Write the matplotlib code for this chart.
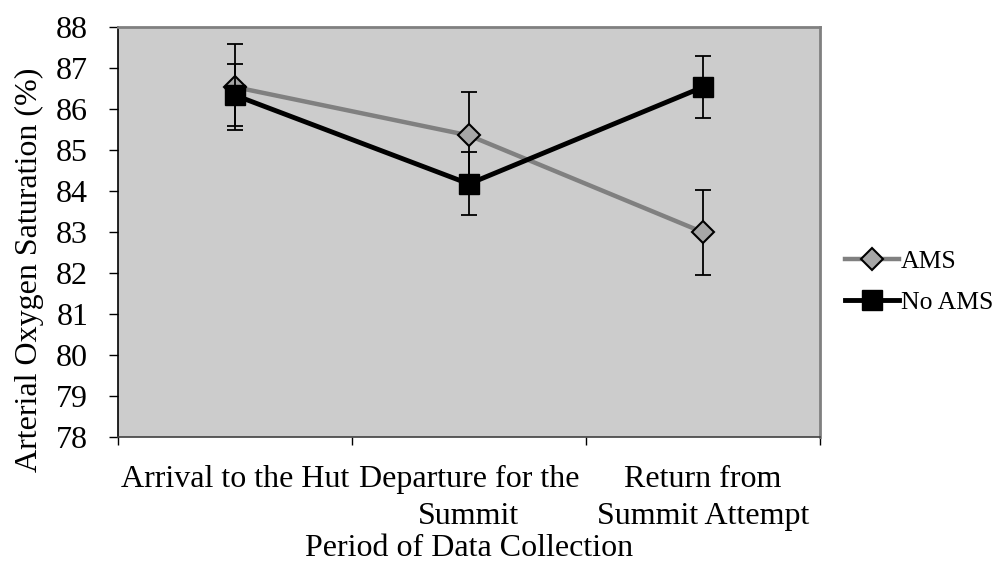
import matplotlib
matplotlib.use("Agg")
import matplotlib.pyplot as plt
from matplotlib.ticker import FixedLocator, NullFormatter, FixedFormatter

categories = ["Arrival to the Hut", "Departure for the\nSummit", "Return from\nSummit Attempt"]
ams_values = [86.53, 85.35, 82.99]
ams_errors = [1.05, 1.05, 1.04]
noams_values = [86.33, 84.17, 86.53]
noams_errors = [0.76, 0.77, 0.76]
series_names = ["AMS", "No AMS"]
yticks = list(range(78, 89))

plt.rcParams['font.family'] = ['Liberation Serif', 'DejaVu Serif']

fig = plt.figure(figsize=(10.05, 5.69), dpi=100)
ax = fig.add_axes([0.1174, 0.232, 0.6985, 0.721])
ax.set_facecolor('#cccccc')

x = [0.5 + i for i in range(len(categories))]

ax.errorbar(x, ams_values, yerr=ams_errors, fmt='none', ecolor='black',
            elinewidth=1.3, capsize=6, capthick=1.3, zorder=2)
l1, = ax.plot(x, ams_values, color='#808080', lw=3.2, marker='D', markersize=11.5,
              markerfacecolor='#a6a6a6', markeredgecolor='black', markeredgewidth=1.5,
              zorder=3, label=series_names[0])
ax.errorbar(x, noams_values, yerr=noams_errors, fmt='none', ecolor='black',
            elinewidth=1.3, capsize=6, capthick=1.3, zorder=4)
l2, = ax.plot(x, noams_values, color='black', lw=3.5, marker='s', markersize=14,
              markerfacecolor='black', markeredgecolor='black',
              zorder=5, label=series_names[1])

ax.set_xlim(0, len(categories))
ax.set_ylim(78, 88)
ax.set_yticks(yticks)
ax.tick_params(axis='y', direction='out', length=6.5, width=1, labelsize=23, pad=15)
ax.xaxis.set_major_locator(FixedLocator(list(range(len(categories) + 1))))
ax.xaxis.set_major_formatter(NullFormatter())
ax.xaxis.set_minor_locator(FixedLocator(x))
ax.xaxis.set_minor_formatter(FixedFormatter(categories))
ax.tick_params(axis='x', which='major', direction='out', length=6, width=1)
ax.tick_params(axis='x', which='minor', length=0, labelsize=23, pad=20)
for lab in ax.xaxis.get_minorticklabels():
    lab.set_horizontalalignment('center')
    lab.set_linespacing(1.38)

for side in ['top', 'right']:
    ax.spines[side].set_color('#808080')
    ax.spines[side].set_linewidth(2)
ax.spines['left'].set_color('black')
ax.spines['left'].set_linewidth(1.2)
ax.spines['bottom'].set_color('#404040')
ax.spines['bottom'].set_linewidth(1.2)

ax.set_ylabel("Arterial Oxygen Saturation (%)", fontsize=23)
ax.yaxis.set_label_coords(-0.105, 0.407)
ax.set_xlabel("Period of Data Collection", fontsize=23)
ax.xaxis.set_label_coords(0.5, -0.272)
ax.xaxis.label.set_verticalalignment('center')

fig.legend(handles=[l1, l2], loc='center left', bbox_to_anchor=(0.831, 0.505),
           frameon=False, fontsize=18.5, handlelength=2.1, handletextpad=0.05,
           labelspacing=0.7, borderaxespad=0)

fig.savefig("out.png", dpi=100)
